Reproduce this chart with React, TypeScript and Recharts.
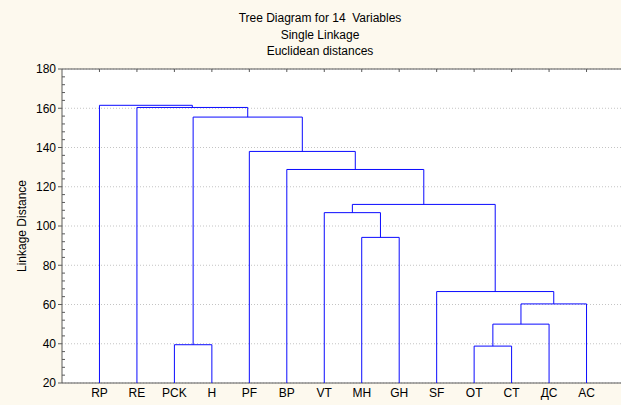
import React from "react";
import {
  ComposedChart,
  Scatter,
  XAxis,
  YAxis,
  CartesianGrid,
} from "recharts";

// Leaves in dendrogram order
const leaves = ["RP", "RE", "PCK", "H", "PF", "BP", "VT", "MH", "GH", "SF", "OT", "CT", "ДС", "AC"];

// Merge steps: ids < 14 are leaves, 14+ are earlier merges
const mergeLeft = [2, 10, 15, 16, 9, 7, 6, 20, 5, 4, 14, 1, 0];
const mergeRight = [3, 11, 12, 13, 17, 8, 19, 18, 21, 22, 23, 24, 25];
const mergeHeight = [39.5, 38.8, 50, 60.3, 66.6, 94.2, 106.8, 111, 128.8, 138, 155.5, 160.4, 161.5];

const yTicks = [20, 40, 60, 80, 100, 120, 140, 160, 180];
const yMinorTicks = [24, 28, 32, 36, 44, 48, 52, 56, 64, 68, 72, 76, 84, 88, 92, 96, 104, 108, 112, 116, 124, 128, 132, 136, 144, 148, 152, 156, 164, 168, 172, 176];

const titleLines = ["Tree Diagram for 14  Variables", "Single Linkage", "Euclidean distances"];

// Build the U-shaped links from the merge table
function buildLinks() {
  const pos: number[] = leaves.map((_, i) => i + 1);
  const height: number[] = leaves.map(() => 20);
  const links: { x: number; y: number }[][] = [];
  mergeLeft.forEach((a, k) => {
    const b = mergeRight[k];
    const h = mergeHeight[k];
    links.push([
      { x: pos[a], y: height[a] },
      { x: pos[a], y: h },
      { x: pos[b], y: h },
      { x: pos[b], y: height[b] },
    ]);
    pos.push((pos[a] + pos[b]) / 2);
    height.push(h);
  });
  return links;
}

const links = buildLinks();
const leafTicks = leaves.map((_, i) => i + 1);

const font = '"Liberation Sans", Arial, sans-serif';
const axisColor = "#5a5a5a";

export default function App() {
  return (
    <div
      style={{
        position: "relative",
        width: 621,
        height: 405,
        overflow: "hidden",
        background: "#fdf9ee",
        fontFamily: font,
      }}
    >
      <style>{`body{margin:0}`}</style>
      {titleLines.map((t, i) => (
        <div
          key={t}
          style={{
            position: "absolute",
            left: 0,
            width: 640,
            top: 11 + i * 16.5,
            textAlign: "center",
            fontSize: 12,
            lineHeight: "14px",
            color: "#000",
            whiteSpace: "pre",
          }}
        >
          {t}
        </div>
      ))}
      <ComposedChart
        width={640}
        height={405}
        margin={{ top: 69, right: 16, bottom: 0, left: 0 }}
        style={{ position: "absolute", left: 0, top: 0 }}
      >
        <CartesianGrid
          vertical={false}
          fill="#ffffff"
          stroke="#c4c4c4"
          strokeDasharray="1 2"
          yAxisId="main"
          xAxisId="bottom"
        />
        <XAxis
          xAxisId="bottom"
          type="number"
          dataKey="x"
          domain={[0, 15]}
          ticks={leafTicks}
          tickFormatter={(v) => leaves[v - 1] ?? ""}
          interval={0}
          height={22}
          tickLine={false}
          tickSize={0}
          tickMargin={5}
          stroke={axisColor}
          tick={{ fill: "#000", fontSize: 12, fontFamily: font }}
          allowDataOverflow
        />
        <XAxis
          xAxisId="top"
          orientation="top"
          type="number"
          dataKey="x"
          domain={[0, 15]}
          ticks={leafTicks}
          interval={0}
          height={1}
          mirror
          tickSize={3}
          tickFormatter={() => ""}
          stroke={axisColor}
          allowDataOverflow
        />
        <YAxis
          yAxisId="main"
          type="number"
          dataKey="y"
          domain={[20, 180]}
          ticks={yTicks}
          interval={0}
          width={62}
          tickSize={4}
          tickMargin={2}
          stroke={axisColor}
          tick={{ fill: "#000", fontSize: 12, fontFamily: font }}
          allowDataOverflow
          label={{
            value: "Linkage Distance",
            angle: -90,
            position: "center",
            dx: -9,
            style: { fill: "#000", fontSize: 12, fontFamily: font },
          }}
        />
        <YAxis
          yAxisId="minor"
          type="number"
          dataKey="y"
          domain={[20, 180]}
          ticks={yMinorTicks}
          interval={0}
          width={1}
          mirror
          axisLine={false}
          tickSize={3}
          tickFormatter={() => ""}
          stroke={axisColor}
          allowDataOverflow
        />
        {links.map((pts, i) => (
          <Scatter
            key={i}
            data={pts}
            dataKey="y"
            xAxisId="bottom"
            yAxisId="main"
            line={{ stroke: "#0a0aff", strokeWidth: 1 }}
            lineType="joint"
            shape={() => <g />}
            legendType="none"
            isAnimationActive={false}
          />
        ))}
        <Scatter
          data={links[0]}
          dataKey="y"
          xAxisId="top"
          yAxisId="minor"
          shape={() => <g />}
          legendType="none"
          isAnimationActive={false}
        />
      </ComposedChart>
    </div>
  );
}
